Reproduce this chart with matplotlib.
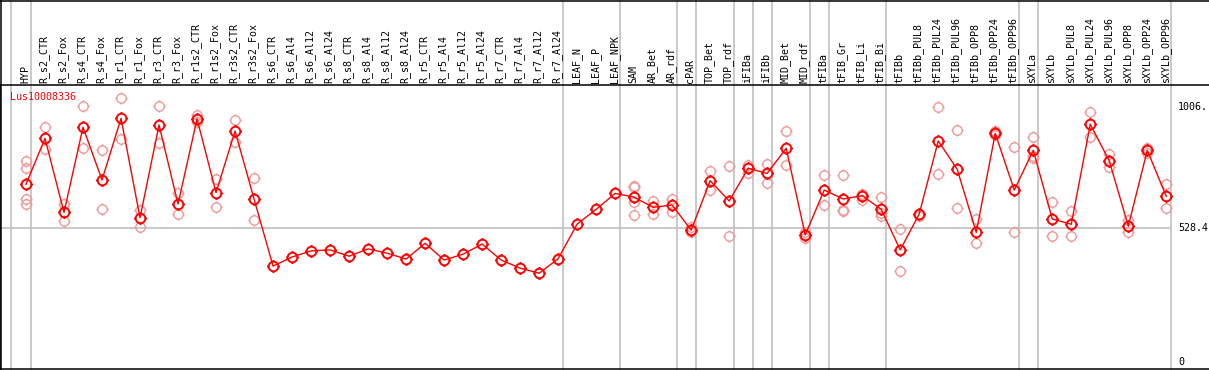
import numpy as np
import matplotlib
matplotlib.use("Agg")
from matplotlib import pyplot as plt
from matplotlib.path import Path
from matplotlib.lines import Line2D
from matplotlib import transforms

# categories along the x axis
categories = [
    "HYP", "R_s2_CTR", "R_s2_Fox", "R_s4_CTR", "R_s4_Fox", "R_r1_CTR", "R_r1_Fox",
    "R_r3_CTR", "R_r3_Fox", "R_r1s2_CTR", "R_r1s2_Fox", "R_r3s2_CTR", "R_r3s2_Fox",
    "R_s6_CTR", "R_s6_Al4", "R_s6_Al12", "R_s6_Al24", "R_s8_CTR", "R_s8_Al4",
    "R_s8_Al12", "R_s8_Al24", "R_r5_CTR", "R_r5_Al4", "R_r5_Al12", "R_r5_Al24",
    "R_r7_CTR", "R_r7_Al4", "R_r7_Al12", "R_r7_Al24", "LEAF_N", "LEAF_P", "LEAF_NPK",
    "SAM", "AR_Bet", "AR_rdf", "cPAR", "TOP_Bet", "TOP_rdf", "iFIBa", "iFIBb",
    "MID_Bet", "MID_rdf", "tFIBa", "tFIB_Gr", "tFIB_Li", "tFIB_Bi", "tFIBb",
    "tFIBb_PUL8", "tFIBb_PUL24", "tFIBb_PUL96", "tFIBb_OPP8", "tFIBb_OPP24",
    "tFIBb_OPP96", "sXYLa", "sXYLb", "sXYLb_PUL8", "sXYLb_PUL24", "sXYLb_PUL96",
    "sXYLb_OPP8", "sXYLb_OPP24", "sXYLb_OPP96",
]

# mean expression per sample
means = [
    701, 882, 590, 926, 718, 961, 569, 935, 623, 959, 668, 911, 643,
    378, 414, 438, 442, 417, 446, 429, 406, 468, 402, 425, 465,
    402, 370, 350, 407, 544, 602, 665,
    650, 610, 619, 520, 715, 635, 764, 744,
    843, 501, 678, 643, 656, 602, 442,
    584, 872, 760, 511, 902, 678,
    835, 564, 543, 938, 793, 536, 835, 653,
]

# individual replicates per sample
replicates = [
    [793, 764, 642, 623], [927, 839], [623, 556], [1010, 843], [836, 603],
    [1040, 878], [599, 533], [1010, 863], [665, 582], [974, 948], [721, 611],
    [953, 867], [725, 560],
    [], [], [], [], [], [], [], [], [], [], [], [], [], [], [], [], [], [], [],
    [695, 689, 632, 580], [635, 584], [643, 593], [534, 511], [752, 677],
    [773, 496], [777, 747], [781, 705], [912, 777], [514, 488], [738, 619],
    [738, 599, 596], [663, 639], [651, 586, 576], [523, 359], [576],
    [1005, 742], [914, 606], [563, 468], [912, 896], [847, 511],
    [888, 814, 804], [631, 497], [594, 497], [985, 888], [822, 768],
    [560, 514], [845, 826], [701, 606],
]

# group separators come right after these samples
group_ends = [0, 28, 31, 34, 35, 37, 38, 39, 41, 42, 45, 52, 53, 60]

gene = "Lus10008336"
ytick_values = [1006, 528.4, 0]
ytick_labels = ["1006.", "528.4", "0"]
median_value = 528.4

W, H = 1209, 370
FONT = "DejaVu Sans Mono"

# circle with four little ticks, like the original markers
stub = 1.3
circ_marker = Path.make_compound_path(
    Path.unit_circle(),
    Path([[0, 1], [0, stub]], [Path.MOVETO, Path.LINETO]),
    Path([[0, -1], [0, -stub]], [Path.MOVETO, Path.LINETO]),
    Path([[1, 0], [stub, 0]], [Path.MOVETO, Path.LINETO]),
    Path([[-1, 0], [-stub, 0]], [Path.MOVETO, Path.LINETO]),
)

fig = plt.figure(figsize=(W / 100, H / 100), dpi=100)
ax = fig.add_axes([0, 1 / H, 1, 284 / H])

x = np.arange(len(categories))
step = 19.005
ax.set_xlim(-26 / step, (W - 26) / step)
ax.set_ylim(-28.1, 1092.8)
ax.set_xticks([])
ax.set_yticks([])
ax.spines["right"].set_visible(False)
for s in ["left", "top", "bottom"]:
    ax.spines[s].set_linewidth(1.1)

# replicates
for i, reps in enumerate(replicates):
    if reps:
        ax.plot([i] * len(reps), reps, linestyle="none", marker=circ_marker,
                markersize=8.8, markerfacecolor="none", markeredgecolor="#f09a9a",
                markeredgewidth=1.0, zorder=2)

# main profile
ax.plot(x, means, color="red", lw=1.0, marker=circ_marker, markersize=9,
        markerfacecolor="none", markeredgecolor="red", markeredgewidth=1.4, zorder=3)

ax.axhline(median_value, xmax=1170 / W, color="#c0c0c0", lw=1.2, zorder=1)

top_ext = 1 + 85 / 284
for g in group_ends + [-1.03]:
    ax.axvline(g + 0.24, ymin=0, ymax=top_ext, color="#c0c0c0", lw=1.2,
               clip_on=False, zorder=1)

# sample names in the header
trans = transforms.blended_transform_factory(ax.transData, fig.transFigure)
for i, name in enumerate(categories):
    ax.text(i - 0.05, (H - 83) / H, name, rotation=90, ha="center", va="bottom",
            fontsize=7.2, family=FONT, transform=trans, clip_on=False)

ax.text(10 / W, (H - 97) / H, gene, color="red", fontsize=7.2, family=FONT,
        ha="left", va="center", transform=fig.transFigure)

ytrans = transforms.blended_transform_factory(fig.transFigure, ax.transData)
for v, lab in zip(ytick_values, ytick_labels):
    ax.text(1178 / W, v, lab, fontsize=7.2, family=FONT, ha="left", va="center",
            transform=ytrans, clip_on=False)

# outer frame pieces
fig.add_artist(Line2D([0, 1], [1 - 0.6 / H, 1 - 0.6 / H], color="black", lw=1.1,
                      transform=fig.transFigure))
fig.add_artist(Line2D([0.6 / W, 0.6 / W], [0, 1], color="black", lw=1.1,
                      transform=fig.transFigure))

fig.savefig("out.png", dpi=100, facecolor="white")
